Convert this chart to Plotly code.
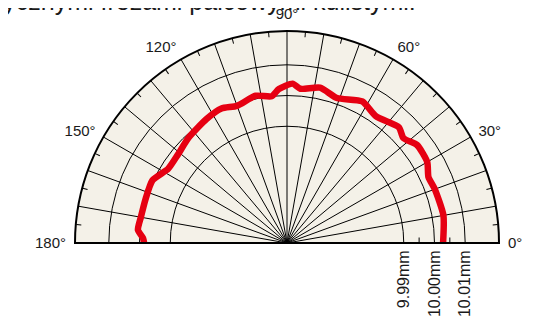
import plotly.graph_objects as go

# ---- data ----
theta_deg = [0, 10, 20, 25, 30, 37, 42, 46, 55, 62, 71, 78, 85, 88, 93, 96, 102,
             110, 116, 123, 133, 141, 148, 155, 163, 170, 175, 178, 180]
radius_mm = [10.0028, 10.0037, 10.0032, 10.0028, 10.0047, 10.0050, 10.0030, 10.0044,
             10.0024, 10.0042, 10.0019, 10.0037, 10.0024, 10.0039, 10.0022, 10.0000,
             10.0010, 9.9995, 10.0007, 10.0001, 9.9989, 9.9977, 9.9976, 10.0003,
             10.0002, 10.0003, 10.0007, 9.9989, 9.9985]

radial_ticks = [9.99, 10.00, 10.01]
radial_ticktext = ["9.99mm", "10.00mm", "10.01mm"]
radial_minor = [9.995, 10.005]
radial_range = [9.952, 10.021]

angle_grid = list(range(0, 181, 10))
angle_labels = [f"{a}°" if a % 30 == 0 else "" for a in angle_grid]
angle_minor = list(range(5, 180, 10))

title_text = "cylindrycznymi frezami palcowymi kulistymi."

# ---- layout geometry (page body adds ~8px offset) ----
W, H = 547, 320
OFF = 8
cx, cy, R = 287 - OFF, 243 - OFF, 212
dom_x = [(cx - R) / W, (cx + R) / W]
dom_y = [1 - cy / H, 1 - (cy - R) / H]

BG = "#f4f1e8"
RED = "#e60012"
FONT = dict(family="Liberation Sans, Arial, sans-serif", size=15, color="#1a1a1a")
RFONT = dict(family="Liberation Sans, Arial, sans-serif", size=16, color="#1a1a1a")

fig = go.Figure()
fig.add_trace(go.Scatterpolar(
    r=radius_mm, theta=theta_deg, mode="lines",
    line=dict(color=RED, width=6.5, shape="spline", smoothing=0.6),
    subplot="polar", showlegend=False, hoverinfo="skip"))
fig.add_trace(go.Scatterpolar(r=[], theta=[], subplot="polar2", showlegend=False))
fig.add_trace(go.Scatterpolar(r=[], theta=[], subplot="polar3", showlegend=False))

common = dict(domain=dict(x=dom_x, y=dom_y), sector=[0, 180])

fig.update_layout(
    width=W, height=H,
    margin=dict(l=0, r=0, t=0, b=0, autoexpand=False),
    paper_bgcolor="white",
    font=FONT,
    showlegend=False,
    polar=dict(
        **common, bgcolor=BG,
        angularaxis=dict(
            rotation=0, direction="counterclockwise",
            tickmode="array", tickvals=angle_grid, ticktext=angle_labels,
            ticks="outside", ticklen=5, tickcolor="rgba(0,0,0,0)",
            showgrid=True, gridcolor="black", gridwidth=1,
            showline=True, linecolor="black", linewidth=2,
            tickfont=FONT),
        radialaxis=dict(
            range=radial_range, angle=0, side="clockwise",
            tickmode="array", tickvals=radial_ticks, ticktext=radial_ticktext,
            tickangle=-90, ticks="",
            showgrid=True, gridcolor="black", gridwidth=1,
            showline=True, linecolor="black", linewidth=2,
            tickfont=RFONT)),
    polar2=dict(
        **common, bgcolor="rgba(0,0,0,0)",
        angularaxis=dict(
            rotation=0, direction="counterclockwise",
            tickmode="array", tickvals=angle_minor, ticktext=[""] * len(angle_minor),
            ticks="inside", ticklen=5, tickcolor="black", tickwidth=1,
            showgrid=False, showline=False, showticklabels=False),
        radialaxis=dict(
            range=radial_range, angle=0, side="clockwise",
            tickmode="array", tickvals=radial_minor,
            ticks="inside", ticklen=5, tickcolor="black", tickwidth=1,
            showgrid=False, showline=False, showticklabels=False)),
    polar3=dict(
        **common, bgcolor="rgba(0,0,0,0)",
        angularaxis=dict(showgrid=False, showline=False, showticklabels=False, ticks=""),
        radialaxis=dict(
            range=radial_range, angle=180,
            showgrid=False, showline=True, linecolor="black", linewidth=2,
            showticklabels=False, ticks="")),
    annotations=[dict(
        text=title_text, xref="paper", yref="paper",
        x=410 / W, y=1 - 9 / H, xanchor="right", yanchor="bottom",
        showarrow=False,
        font=dict(family="Liberation Sans, Arial, sans-serif", size=25, color="#1a1a1a"))],
)

fig.write_html("out.html")
